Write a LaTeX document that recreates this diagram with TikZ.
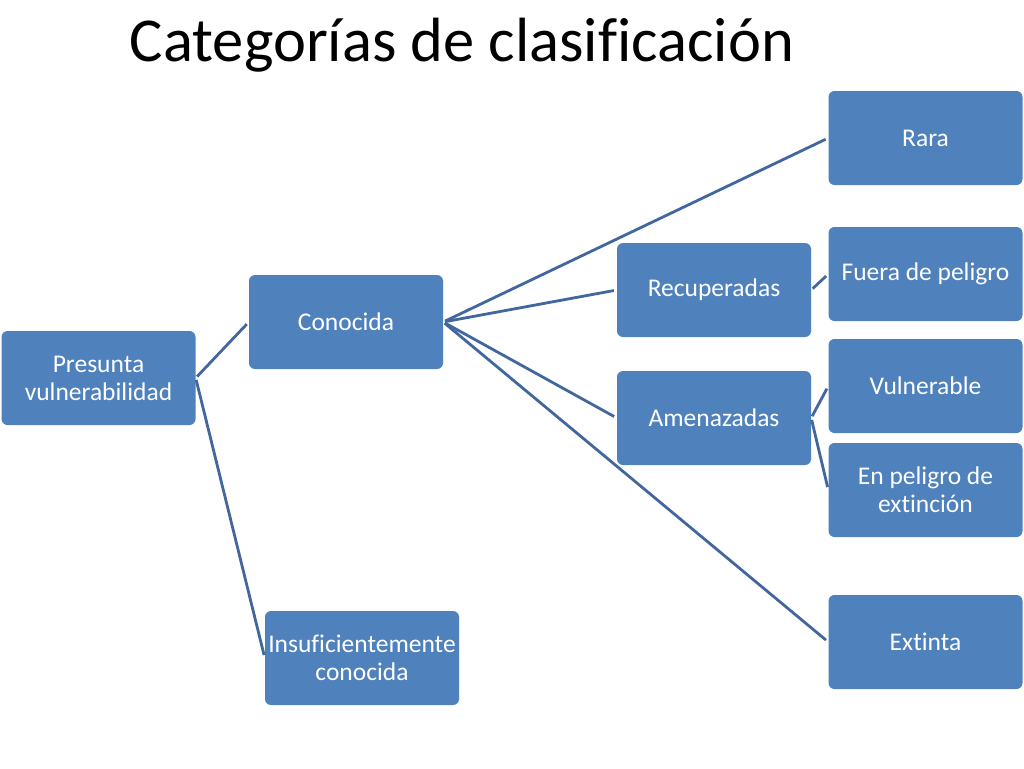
\documentclass[tikz,border=0pt]{standalone}
\usepackage{fontspec}
\setmainfont{Carlito}[Ligatures=NoCommon]
\usepackage{tikz}
\definecolor{boxblue}{HTML}{4F81BD}
\definecolor{linkblue}{HTML}{41679E}
\tikzstyle{catstyle}=[rectangle, rounded corners=6pt, fill=boxblue,
text=white, minimum width=194pt, minimum height=94pt, inner sep=0pt,
align=center, font=\fontsize{25.5}{28}\selectfont]
\tikzstyle{linkstyle}=[draw=linkblue, line width=2.8pt,
shorten <=2pt, shorten >=3pt]

\begin{document}
\begin{tikzpicture}[x=1pt,y=-1pt]
\useasboundingbox (0,0) rectangle (1024,768);

% Title
\path (462,62) node[anchor=base, font=\fontsize{62.5}{70}\selectfont] (title) {Categorías de clasificación};

% Level 1
\path (98.5,378) node[catstyle] (presunta) {Presunta\\vulnerabilidad};

% Level 2
\path (346,322) node[catstyle] (conocida) {Conocida};
\path (362,658) node[catstyle] (insuf) {Insuficientemente\\conocida};

% Level 3
\path (714,290) node[catstyle] (recup) {Recuperadas};
\path (714,418) node[catstyle] (amenaz) {Amenazadas};

% Level 4
\path (925.5,138) node[catstyle] (rara) {Rara};
\path (925.5,274) node[catstyle] (fuera) {Fuera de peligro};
\path (925.5,386) node[catstyle] (vulner) {Vulnerable};
\path (925.5,490) node[catstyle] (peligro) {En peligro de\\extinción};
\path (925.5,642) node[catstyle] (extinta) {Extinta};

% Connectors
\draw[linkstyle] (presunta.east) -- (conocida.west);
\draw[linkstyle] (presunta.east) -- (insuf.west);
\draw[linkstyle] (conocida.east) -- (rara.west);
\draw[linkstyle] (conocida.east) -- (recup.west);
\draw[linkstyle] (conocida.east) -- (amenaz.west);
\draw[linkstyle] (conocida.east) -- (extinta.west);
\draw[linkstyle] (recup.east) -- (fuera.west);
\draw[linkstyle] (amenaz.east) -- (vulner.west);
\draw[linkstyle] (amenaz.east) -- (peligro.west);

\end{tikzpicture}
\end{document}
